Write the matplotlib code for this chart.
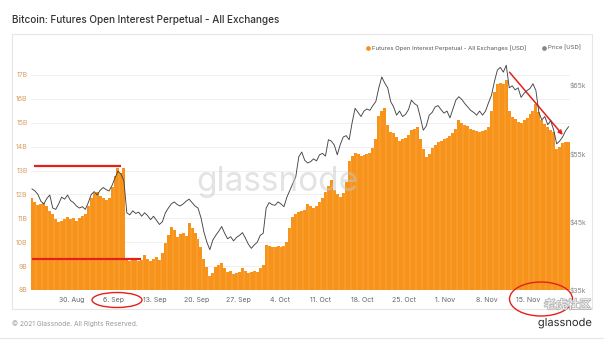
import matplotlib
matplotlib.use("Agg")
import matplotlib.pyplot as plt
import matplotlib.patheffects as pe
from matplotlib.lines import Line2D
from matplotlib.patches import Ellipse, Rectangle, FancyArrowPatch
import pandas as pd

plt.rcParams['font.family'] = ['Inter', 'DejaVu Sans']

# 12-hourly samples starting 23 Aug 2021
start = "2021-08-23 00:00"

# Futures open interest, perpetual, all exchanges (billion USD)
oi_billion = [
    11.85, 11.7, 11.55, 11.6, 11.65, 11.5, 11.3, 11.2, 10.95, 10.85,
    10.9, 10.95, 11.05, 10.95, 11.0, 10.9, 11.0, 11.1, 11.2, 11.5,
    11.85, 12.05, 12.1, 11.95, 11.85, 11.75, 11.85, 12.3, 12.75, 13.1,
    12.9, 13.1, 9.25, 9.2, 9.25, 9.3, 9.2, 9.25, 9.45, 9.3,
    9.2, 9.3, 9.4, 9.25, 9.55, 9.95, 10.3, 10.65, 10.5, 10.2,
    10.35, 10.4, 10.25, 10.8, 10.6, 10.4, 10.15, 9.8, 9.3, 8.95,
    8.6, 8.7, 8.95, 9.05, 9.15, 8.9, 8.75, 8.8, 8.65, 8.7,
    8.75, 8.9, 8.8, 8.7, 8.75, 8.8, 8.75, 8.9, 9.05, 9.9,
    9.85, 9.8, 9.8, 9.85, 9.8, 9.85, 10.0, 10.6, 11.05, 11.2,
    11.25, 11.3, 11.35, 11.6, 11.5, 11.45, 11.5, 11.7, 11.85, 12.1,
    12.35, 12.6, 12.2, 12.0, 11.9, 12.05, 12.5, 13.4, 13.6, 13.75,
    13.7, 13.6, 13.65, 13.7, 13.75, 13.95, 14.3, 15.3, 15.5, 15.6,
    14.9, 14.6, 14.55, 14.4, 14.25, 14.3, 14.35, 14.5, 14.7, 14.75,
    14.8, 14.3, 13.9, 13.55, 13.7, 13.95, 14.05, 14.2, 14.25, 14.3,
    14.35, 14.45, 14.55, 14.75, 15.1, 15.0, 14.9, 14.85, 14.75, 14.7,
    14.65, 14.6, 14.65, 14.7, 14.8, 15.5, 16.3, 16.6, 16.65, 16.6,
    16.8, 15.5, 15.25, 15.15, 15.05, 15.0, 15.1, 15.2, 15.35, 15.5,
    15.8, 15.45, 15.1, 14.95, 14.8, 14.7, 14.6, 13.9, 14.0, 14.15,
    14.2, 14.2,
]

# BTC price (thousand USD)
price_k = [
    49.8, 49.5, 49.0, 48.0, 47.6, 48.4, 48.9, 47.0, 46.8, 47.6,
    48.6, 48.3, 48.9, 48.1, 47.8, 47.3, 47.0, 47.2, 46.8, 47.8,
    49.0, 49.4, 48.9, 49.6, 50.0, 49.7, 49.5, 50.3, 51.4, 52.4,
    52.0, 51.0, 46.3, 46.0, 46.6, 46.2, 46.4, 45.8, 46.3, 45.9,
    45.3, 45.8, 45.2, 44.6, 45.0, 46.3, 47.0, 47.6, 47.9, 47.5,
    47.3, 47.6, 48.0, 48.3, 47.8, 47.3, 47.0, 45.6, 43.5, 42.0,
    40.9, 42.3, 43.0, 43.6, 44.3, 43.3, 42.5, 42.8, 42.2, 42.7,
    43.0, 43.4, 42.6, 41.7, 41.1, 41.6, 42.0, 43.0, 43.3, 47.0,
    47.8, 47.5, 47.4, 47.9, 47.6, 47.2, 48.6, 49.6, 50.6, 51.6,
    54.5, 55.2, 54.0, 53.6, 53.8, 54.2, 53.9, 54.8, 55.0, 54.6,
    57.0, 56.8, 56.2, 54.8, 56.3, 57.4, 57.6, 57.0, 59.5, 61.6,
    61.0, 60.4, 61.2, 61.5, 61.3, 62.0, 62.6, 64.6, 66.2, 65.3,
    64.6, 62.6, 61.8, 60.6, 61.2, 60.4, 60.7, 61.4, 62.8, 62.3,
    62.0, 60.3, 58.4, 59.0, 60.6, 61.0, 61.8, 62.0, 61.4, 60.9,
    61.2, 60.2, 61.5, 62.8, 63.3, 62.9, 62.3, 61.8, 61.3, 61.0,
    60.6, 61.2, 60.6, 61.2, 62.4, 63.5, 65.5, 67.2, 67.6, 66.9,
    67.9, 64.6, 64.9, 64.3, 64.6, 63.2, 63.8, 64.2, 64.5, 65.2,
    64.2, 61.0, 59.9, 60.4, 59.2, 59.8, 58.4, 56.4, 56.8, 57.4,
    58.3, 58.9,
]

tick_dates = ["2021-08-30", "2021-09-06", "2021-09-13", "2021-09-20",
              "2021-09-27", "2021-10-04", "2021-10-11", "2021-10-18",
              "2021-10-25", "2021-11-01", "2021-11-08", "2021-11-15"]
tick_labels = ["30. Aug", "6. Sep", "13. Sep", "20. Sep", "27. Sep", "4. Oct",
               "11. Oct", "18. Oct", "25. Oct", "1. Nov", "8. Nov", "15. Nov"]
oi_ticks = [8, 9, 10, 11, 12, 13, 14, 15, 16, 17]
price_ticks = [35, 45, 55, 65]

ORANGE = "#f7931a"
RED = "#e3201b"
W, H = 604, 340

times = pd.date_range(start, periods=len(oi_billion), freq="12h")
step = pd.Timedelta(hours=12)

fig = plt.figure(figsize=(W / 100, H / 100), dpi=100)
fig.patch.set_facecolor("white")

def fx(px):
    return px / W

def fy(py):
    return 1 - py / H

# card frame and footer rule
fig.add_artist(Rectangle((fx(12), fy(309)), fx(580), 275 / H, fill=False,
                         ec="#e6e6e6", lw=0.8, transform=fig.transFigure))
fig.add_artist(Line2D([0, 1], [fy(338), fy(338)], color="#e6e6e6", lw=0.8,
                      transform=fig.transFigure))

ax = fig.add_axes([fx(30.5), fy(290), fx(539.5), 227 / H])
ax.set_facecolor("none")

# open interest as contiguous 12h bars
edges = list(times) + [times[-1] + step]
heights = list(oi_billion) + [oi_billion[-1]]
ax.fill_between(edges, heights, 0, step="post", color=ORANGE, lw=0, zorder=2)
# faint daily seams between bar groups
day_idx = list(range(2, len(times), 2))
ax.vlines([times[i] for i in day_idx], 8, [min(oi_billion[i], oi_billion[i - 1]) for i in day_idx],
          color="white", lw=0.35, alpha=0.3, zorder=3)

ax.set_xlim(times[0], times[-1] + step)
ax.set_ylim(8, 8 + 227 / 23.9)
ax.set_yticks(oi_ticks)
ax.set_yticklabels([f"{v}B" for v in oi_ticks])
ax.yaxis.grid(True, color="#eeeeee", lw=0.6, zorder=0)
ax.set_axisbelow(True)
ax.set_xticks(pd.to_datetime(tick_dates))
ax.set_xticklabels(tick_labels)
ax.tick_params(axis="y", length=0, pad=2, labelsize=5, labelcolor="#d9a066")
ax.tick_params(axis="x", length=0, pad=5, labelsize=5, labelcolor="#666666")
for s in ax.spines.values():
    s.set_visible(False)

ax2 = ax.twinx()
ax2.plot(times + step / 2, price_k, color="#444444", lw=0.65, zorder=4)
ax2.set_ylim(35, 35 + 227 / 6.83)
ax2.set_yticks(price_ticks)
ax2.set_yticklabels([f"${v}k" for v in price_ticks])
ax2.tick_params(axis="y", length=0, pad=0, labelsize=5, labelcolor="#888888")
for s in ax2.spines.values():
    s.set_visible(False)

# title
fig.text(fx(12), fy(20), "Bitcoin: Futures Open Interest Perpetual - All Exchanges",
         fontsize=7.2, color="#333333", va="center", ha="left", weight="medium")

# legend
fig.add_artist(Line2D([fx(368)], [fy(48)], marker="o", ms=2.4, color=ORANGE,
                      lw=0, transform=fig.transFigure))
fig.text(fx(372), fy(48), "Futures Open Interest Perpetual - All Exchanges [USD]",
         fontsize=4.3, color="#555555", va="center", ha="left")
fig.add_artist(Line2D([fx(544)], [fy(48)], marker="o", ms=2.4, color="#888888",
                      lw=0, transform=fig.transFigure))
fig.text(fx(548), fy(48), "Price [USD]", fontsize=4.3, color="#555555",
         va="center", ha="left")

# centre watermark
fig.text(fx(277), fy(182), "glassnode", fontsize=24, color="#c8c8c8", alpha=0.5,
         ha="center", va="center", zorder=10)

# footer
fig.text(fx(12), fy(324), "\u00a9 2021 Glassnode. All Rights Reserved.",
         fontsize=4.8, color="#9a9a9a", va="center", ha="left")
fig.text(fx(592), fy(323), "glassnode", fontsize=8, color="#2a2a2a",
         ha="right", va="center",
         path_effects=[pe.withStroke(linewidth=1.5, foreground="white")])
fig.text(fx(591), fy(305), "老虎社区", family=["Noto Sans CJK SC"], fontsize=8.5,
         color="#f7f7f7", ha="right", va="center", zorder=12,
         path_effects=[pe.withStroke(linewidth=1.2, foreground="#b5b5b5")])

# hand-drawn red markings
ax.hlines(13.2, pd.Timestamp("2021-08-23 14:00"), pd.Timestamp("2021-09-07 06:00"),
          color=RED, lw=1.6, zorder=6)
ax.hlines(9.3, pd.Timestamp("2021-08-23 06:00"), pd.Timestamp("2021-09-10 14:00"),
          color=RED, lw=1.6, zorder=6)
arrow = FancyArrowPatch((pd.Timestamp("2021-11-11 12:00"), 17.2),
                        (pd.Timestamp("2021-11-21 02:00"), 14.4),
                        transform=ax.transData, arrowstyle="-|>",
                        mutation_scale=6, color=RED, lw=1.1, zorder=7, clip_on=False)
ax.add_artist(arrow)
fig.add_artist(Ellipse((fx(117), fy(300)), fx(50), 15 / H, fill=False, ec=RED,
                       lw=1.0, transform=fig.transFigure))
fig.add_artist(Ellipse((fx(541), fy(299)), fx(63), 34 / H, fill=False, ec=RED,
                       lw=1.0, transform=fig.transFigure))

fig.savefig("out.png", dpi=100)
